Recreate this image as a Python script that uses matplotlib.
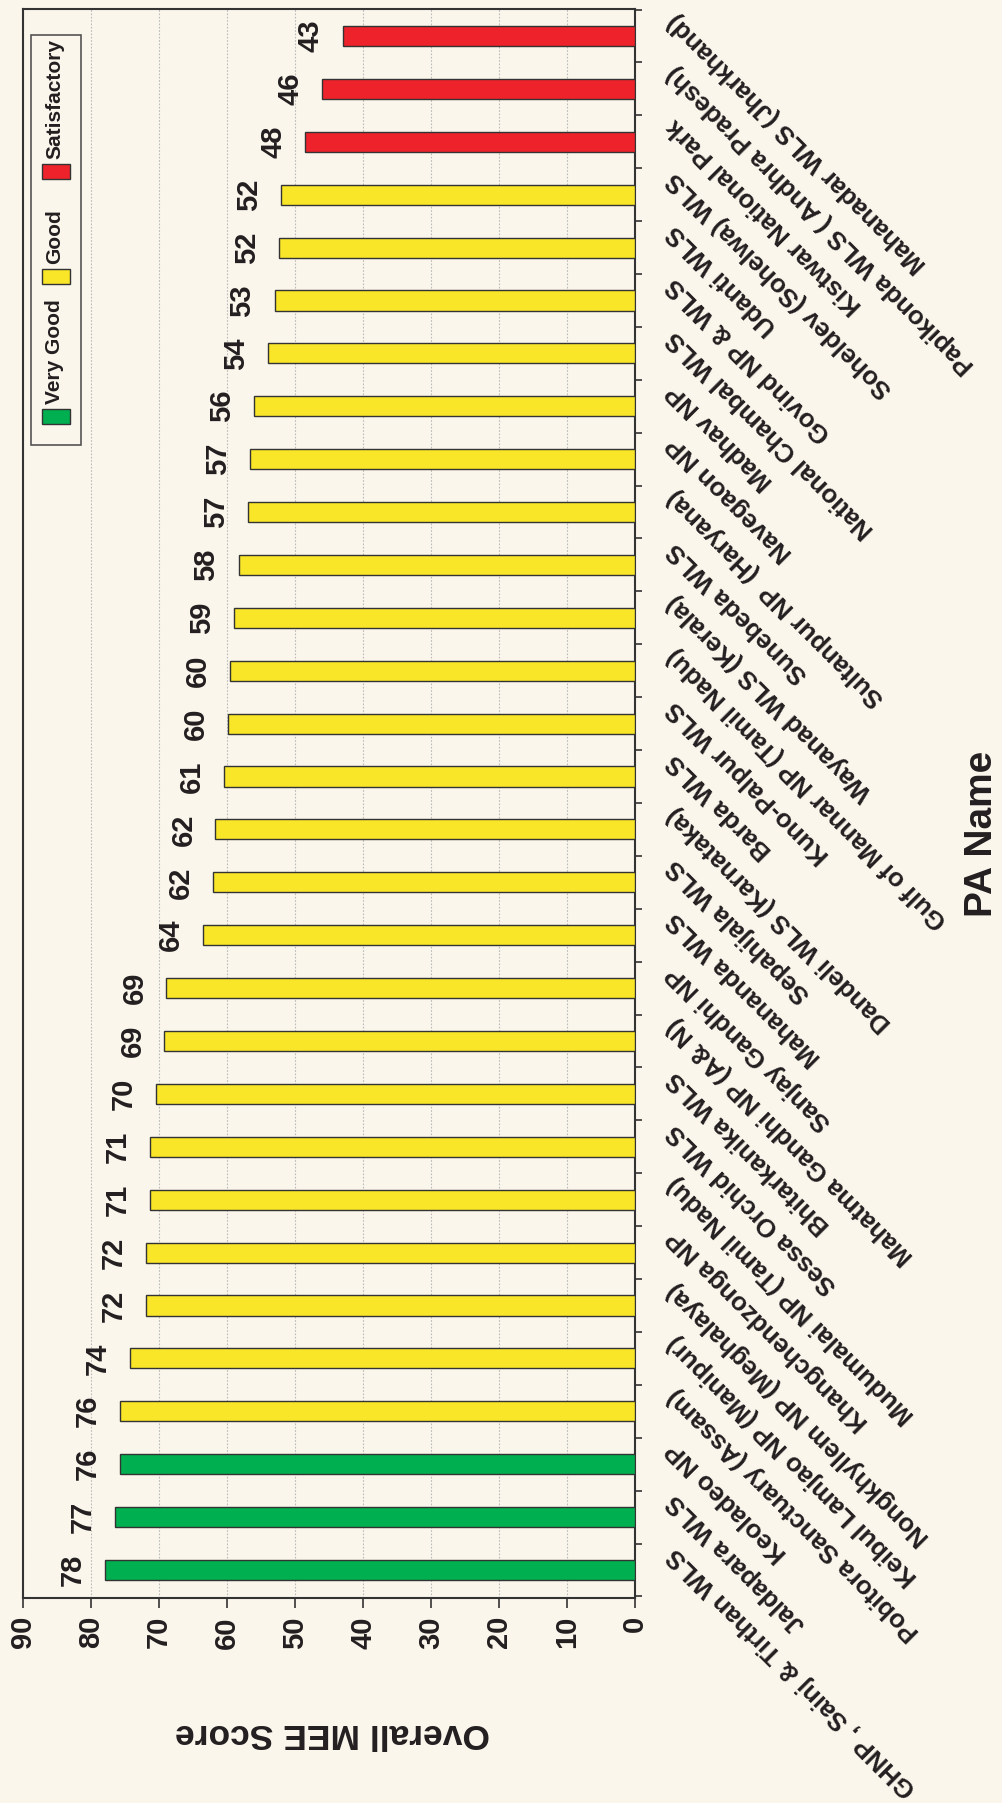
import matplotlib
matplotlib.use("Agg")
import matplotlib.pyplot as plt
import matplotlib.transforms as mtransforms
from matplotlib.patches import Rectangle
import numpy as np

# data, left-to-right order of the original chart (GHNP first)
pa_names = ["GHNP , Sainj & Tirthan WLS", "Jaldapara WLS", "Keoladeo NP",
            "Pobitora Sanctuary (Assam)", "Keibul Lamjao NP (Manipur)",
            "Nongkhyllem NP (Meghalaya)", "Khangchendzonga NP",
            "Mudumalai NP (Tamil Nadu)", "Sessa Orchid WLS", "Bhitarkanika WLS",
            "Mahatma Gandhi NP (A& N)", "Sanjay Gandhi NP", "Mahananda WLS",
            "Sepahijala WLS", "Dandeli WLS (Karnataka)", "Barda WLS",
            "Kuno-Palpur WLS", "Gulf of Mannar NP (Tamil Nadu)",
            "Wayanad WLS (Kerala)", "Sunebeda WLS", "Sultanpur NP  (Haryana)",
            "Navegaon NP", "Madhav NP", "National Chambal WLS", "Govind NP & WLS",
            "Udanti WLS", "Soheldev (Sohelwa) WLS", "Kistwar National Park",
            "Papikonda WLS ( Andhra Pradesh)", "Mahanadar WLS (Jharkhand)"]
scores = [77.9, 76.5, 75.8, 75.8, 74.3, 71.9, 71.9, 71.3, 71.3, 70.4,
          69.2, 68.9, 63.5, 62.0, 61.7, 60.5, 59.9, 59.6, 59.0, 58.3,
          56.9, 56.6, 56.0, 53.9, 53.0, 52.4, 52.1, 48.5, 46.0, 43.0]
score_labels = [78, 77, 76, 76, 74, 72, 72, 71, 71, 70, 69, 69, 64, 62, 62,
                61, 60, 60, 59, 58, 57, 57, 56, 54, 53, 52, 52, 48, 46, 43]
ratings = ["Very Good"] * 3 + ["Good"] * 24 + ["Satisfactory"] * 3
rating_names = ["Very Good", "Good", "Satisfactory"]
xticks = [0, 10, 20, 30, 40, 50, 60, 70, 80, 90]

colors = {"Very Good": "#00B050", "Good": "#F9E628", "Satisfactory": "#EE222A"}
bg = "#FAF6EC"
ink = "#231F20"
line = "#333333"

narrow = ["Liberation Sans Narrow", "Liberation Sans", "DejaVu Sans"]
wide = ["Liberation Sans", "DejaVu Sans"]
plt.rcParams['font.family'] = narrow
plt.rcParams['font.weight'] = 'bold'
plt.rcParams['text.color'] = ink

W, H = 1002, 1803
def fx(x):
    return x / W
def fy(y):
    return 1 - y / H

fig = plt.figure(figsize=(W / 100, H / 100), dpi=100, facecolor=bg)
ax = fig.add_axes([fx(23), fy(1598), (635 - 23) / W, (1598 - 9) / H])
ax.set_facecolor(bg)

pos = np.arange(len(pa_names))
ax.barh(pos, scores, height=0.38, color=[colors[r] for r in ratings],
        edgecolor=line, linewidth=1, zorder=3)

ax.set_xlim(90, 0)
ax.set_ylim(-0.53, 29.51)
ax.set_xticks(xticks)
ax.set_xticklabels([str(t) for t in xticks])
ax.xaxis.grid(True, linestyle=(0, (1.5, 1.5)), color="#BBBBBB", linewidth=0.8)
ax.set_axisbelow(True)
ax.tick_params(axis='x', direction='out', length=7, width=1.2, color=line,
               pad=6, labelsize=21, labelrotation=90, labelcolor=ink)

ax.yaxis.tick_right()
ax.set_yticks([])
ax.set_yticks(np.arange(-0.5, len(pa_names), 1), minor=True)
ax.tick_params(axis='y', which='minor', direction='out', length=5, width=1.2,
               color=line)

for s in ax.spines.values():
    s.set_color(line)
    s.set_linewidth(1.5)

# category labels, running down-right from the right axis
lab_off = mtransforms.ScaledTranslation(0.36, 0.19, fig.dpi_scale_trans)
for i, name in enumerate(pa_names):
    ax.text(1.0, i, name, transform=ax.get_yaxis_transform() + lab_off,
            rotation=135, rotation_mode='anchor', ha='right', va='center',
            fontsize=18.5, family=wide)

# value labels
for i, (v, l) in enumerate(zip(scores, score_labels)):
    ax.annotate(str(l), xy=(v, i), xytext=(-13, 0), textcoords='offset points',
                rotation=90, ha='right', va='center', fontsize=21)

fig.text(fx(333), fy(1734), "Overall MEE Score", rotation=180, ha='center',
         va='center', fontsize=25.5, family=wide)
fig.text(fx(982), fy(834), "PA Name", rotation=90, ha='center', va='center',
         fontsize=28)

# legend drawn by hand
fig.patches.append(Rectangle((fx(30.7), fy(445)), (81 - 30.7) / W, (445 - 35) / H,
                             transform=fig.transFigure, facecolor=bg,
                             edgecolor="#555555", linewidth=1.2, zorder=5))
patch_bottoms = [424, 284, 179]
for name, yb in zip(rating_names, patch_bottoms):
    fig.patches.append(Rectangle((fx(41.5), fy(yb)), 28 / W, 15 / H,
                                 transform=fig.transFigure,
                                 facecolor=colors[name], edgecolor=line,
                                 linewidth=1, zorder=6))
    fig.text(fx(55), fy(yb - 20), name, rotation=90, ha='center', va='bottom',
             fontsize=15, zorder=6)

fig.savefig("out.png", dpi=100, facecolor=bg)
